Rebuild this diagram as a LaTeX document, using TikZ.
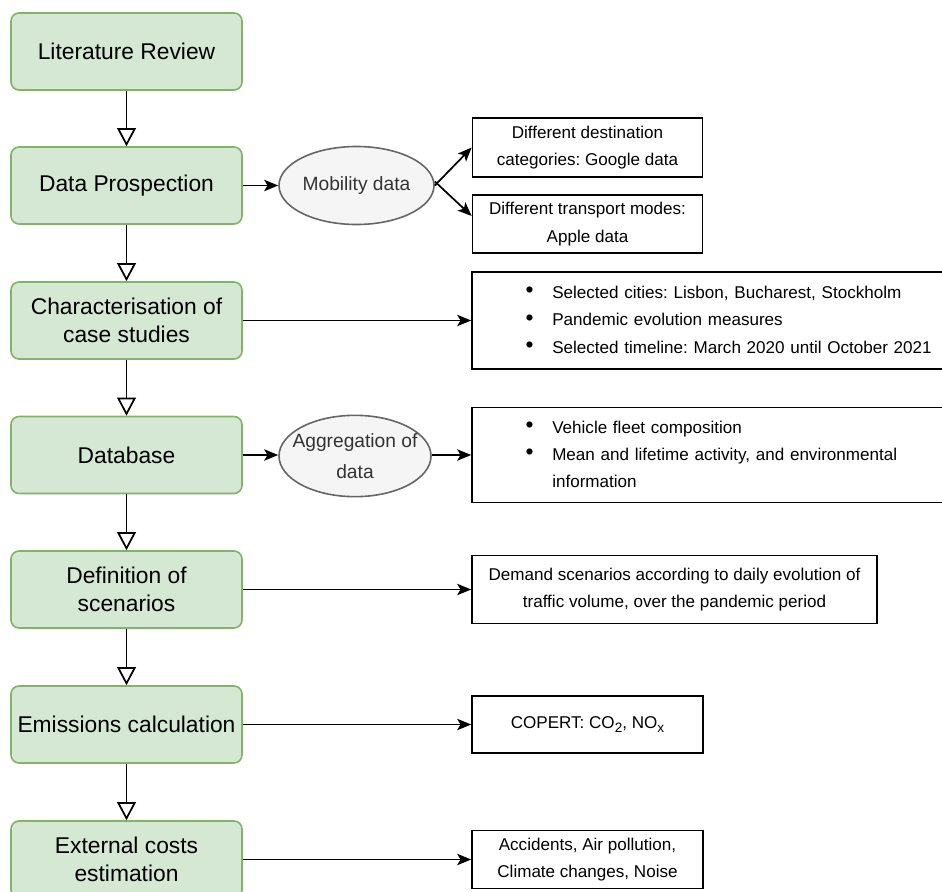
\documentclass[tikz,border=0pt]{standalone}
\usepackage{fontspec}
\setmainfont{Liberation Sans}
\usetikzlibrary{arrows.meta,shapes.geometric}
\frenchspacing

\definecolor{stagefill}{HTML}{D5E8D4}
\definecolor{stageline}{HTML}{82B366}
\definecolor{sourcefill}{HTML}{F5F5F5}
\definecolor{sourceline}{HTML}{666666}
\definecolor{sourcetext}{HTML}{333333}

\newcommand{\listdot}{\raisebox{0.6pt}{\fontsize{17}{17}\selectfont\textbullet}}
\newcommand{\lowidx}[1]{\raisebox{-3.6pt}{\fontsize{10.2}{10}\selectfont #1}}

\begin{document}
\begin{tikzpicture}[x=0.75pt,y=0.75pt,yscale=-1,xscale=1,
  stage/.style={draw=stageline,fill=stagefill,line width=1.2pt,rounded corners=6pt,
    minimum width=173.25pt,minimum height=57.75pt,inner sep=1pt,align=center,
    font=\fontsize{17.1}{21.5}\selectfont},
  source/.style={ellipse,draw=sourceline,fill=sourcefill,line width=1.2pt,inner sep=0pt,
    text=sourcetext,align=center,font=\fontsize{14.4}{22}\selectfont},
  infobox/.style={draw=black,line width=1.2pt,fill=white,inner sep=0pt,align=center,
    font=\fontsize{12.8}{20.6}\selectfont},
  listbox/.style={infobox,align=left,inner xsep=3.75pt,text width=348pt},
  next/.style={line width=1.3pt,-{Triangle[length=13.5pt,width=14pt,fill=white]}},
  feed/.style={line width=1.3pt,-{Stealth[length=10.5pt,width=8.5pt,inset=2.5pt]}}]
\useasboundingbox (0,0) rectangle (942,892);
\clip (0,0) rectangle (942,892);

%Shape: Rounded Rectangle (stages)
\node[stage] (litrev) at (126.5,51.5) {Literature Review};
\node[stage] (dataprosp) at (126.5,185.5) {Data Prospection};
\node[stage] (charact) at (126.5,320.5) {Characterisation of\\case studies};
\node[stage] (database) at (126.5,455) {Database};
\node[stage] (scenarios) at (126.5,589.5) {Definition of\\scenarios};
\node[stage] (emissions) at (126.5,724.5) {Emissions calculation};
\node[stage] (extcosts) at (126.5,859.5) {External costs\\estimation};

%Shape: Ellipse
\node[source,minimum width=116.25pt,minimum height=58.5pt] (mobility) at (356.5,185.5)
  {\raisebox{-2pt}{Mobility data}};
\node[source,minimum width=114pt,minimum height=61pt] (aggregation) at (355,456)
  {\raisebox{-4pt}{\makebox[0pt]{Aggregation of}}\\[1pt]\raisebox{-4pt}{\makebox[0pt]{data}}};

%Shape: Rectangle (outputs)
\node[infobox,minimum width=172.5pt,minimum height=44.25pt] (google) at (587.5,147.5)
  {Different destination\\categories: Google data};
\node[infobox,minimum width=172.5pt,minimum height=43.5pt] (apple) at (587.5,224)
  {Different transport modes:\\Apple data};
\node[listbox,minimum height=72.75pt] (cities) at (709,320.5)
  {\begin{tabular}{@{\hspace{36.5pt}}l@{\hspace{14pt}}l@{}}
   \listdot & Selected cities: Lisbon, Bucharest, Stockholm\\
   \listdot & Pandemic evolution measures\\
   \listdot & Selected timeline: March 2020 until October 2021
   \end{tabular}};
\node[listbox,minimum height=71.25pt] (fleet) at (709,455)
  {\begin{tabular}{@{\hspace{36.5pt}}l@{\hspace{14pt}}l@{}}
   \listdot & Vehicle fleet composition\\
   \listdot & Mean and lifetime activity, and environmental\\
            & information
   \end{tabular}};
\node[infobox,minimum width=303.75pt,minimum height=51pt] (demand) at (674.5,589.5)
  {Demand scenarios according to daily evolution of\\traffic volume, over the pandemic period};
\node[infobox,minimum width=173.25pt,minimum height=42.75pt] (copert) at (587.5,724.5)
  {COPERT: CO\lowidx{2}, NO\lowidx{x}};
\node[infobox,minimum width=173.25pt,minimum height=43.5pt] (costs) at (587.5,859.5)
  {Accidents, Air pollution,\\Climate changes, Noise};

%Straight Lines (stage to stage)
\draw[next] (litrev) -- (dataprosp);
\draw[next] (dataprosp) -- (charact);
\draw[next] (charact) -- (database);
\draw[next] (database) -- (scenarios);
\draw[next] (scenarios) -- (emissions);
\draw[next] (emissions) -- (extcosts);

%Straight Lines (outputs)
\draw[feed] (dataprosp) -- (mobility);
\draw[feed] (mobility.east) -- (google.west);
\draw[feed] ([yshift=-3pt]mobility.east) -- ([yshift=-6pt]apple.west);
\draw[feed] (charact) -- (cities);
\draw[feed] (database) -- (database -| aggregation.west);
\draw[feed] (aggregation.east |- database) -- (database -| fleet.west);
\draw[feed] (scenarios) -- (demand);
\draw[feed] (emissions) -- (copert);
\draw[feed] (extcosts) -- (costs);
\end{tikzpicture}
\end{document}
